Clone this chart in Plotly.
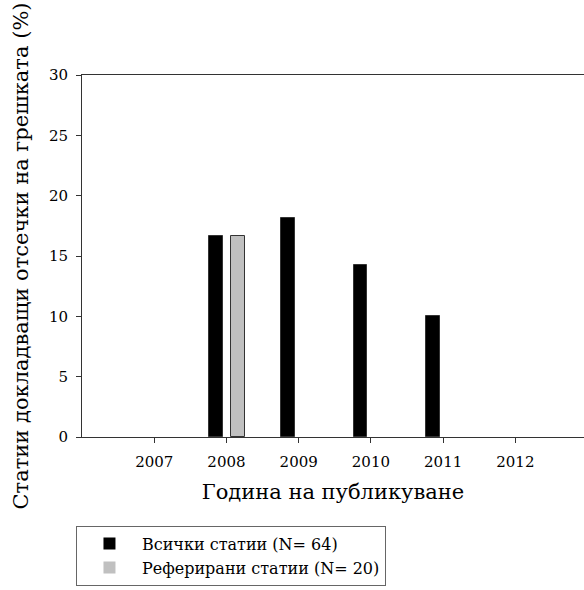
import plotly.graph_objects as go

years = [2007, 2008, 2009, 2010, 2011, 2012]
all_articles = [0, 16.67, 18.18, 14.29, 10.0, 0]
refereed_articles = [0, 16.67, 0, 0, 0, 0]
y_ticks = [0, 5, 10, 15, 20, 25, 30]

series_names = ["Всички статии (N= 64)", "Реферирани статии (N= 20)"]
x_title = "Година на публикуване"
y_title = "Статии докладващи отсечки на грешката (%)"

FONT = "DejaVu Serif"

fig = go.Figure()
fig.add_trace(go.Bar(
    x=years, y=all_articles, name=series_names[0],
    width=0.19, offset=-0.24,
    marker=dict(color="black",
                line=dict(color="#333333", width=[1 if v else 0 for v in all_articles])),
))
fig.add_trace(go.Bar(
    x=years, y=refereed_articles, name=series_names[1],
    width=0.19, offset=0.065,
    marker=dict(color="#c0c0c0",
                line=dict(color="#333333", width=[1 if v else 0 for v in refereed_articles])),
))

fig.update_layout(
    width=584, height=590,
    margin=dict(l=82, r=0, t=75, b=153, autoexpand=False),
    paper_bgcolor="white", plot_bgcolor="white",
    font=dict(family=FONT, color="black", size=15),
    barmode="overlay",
    bargap=0,
    showlegend=True,
    legend=dict(
        x=-0.012, y=-0.245, xanchor="left", yanchor="top",
        bordercolor="#666666", borderwidth=1,
        font=dict(family=FONT, size=16, color="black"),
        bgcolor="white", itemwidth=55,
    ),
    xaxis=dict(
        range=[2006, 2012.95],
        tickvals=years, ticktext=[str(y) for y in years],
        ticks="outside", ticklen=5, tickcolor="#333333",
        showline=True, linecolor="#333333", linewidth=1, mirror=True,
        showgrid=False, zeroline=False, automargin=False,
        tickfont=dict(family=FONT, size=15),
        ticklabelstandoff=6,
        title=dict(text=x_title, font=dict(family=FONT, size=21), standoff=14),
    ),
    yaxis=dict(
        range=[0, 30],
        tickvals=y_ticks,
        ticks="outside", ticklen=5, tickcolor="#333333",
        showline=True, linecolor="#333333", linewidth=1,
        showgrid=False, zeroline=False, automargin=False,
        tickfont=dict(family=FONT, size=15),
        ticklabelstandoff=5,
        title=dict(text=y_title, font=dict(family=FONT, size=21), standoff=14),
    ),
)

fig.write_html(
    "out.html",
    config={"displayModeBar": False},
    post_script="document.body.style.margin='0';document.body.style.overflow='hidden';",
)
